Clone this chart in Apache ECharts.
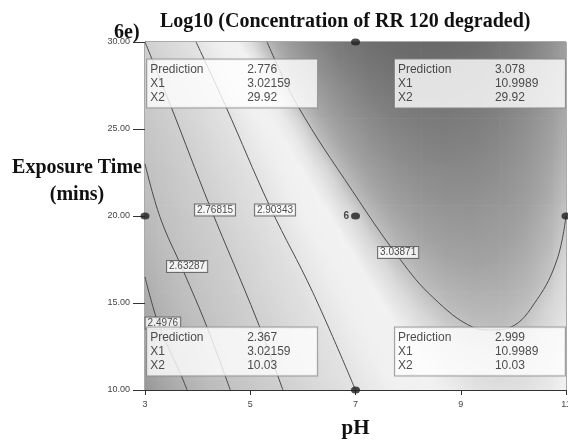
<!DOCTYPE html>
<html>
<head>
<meta charset="utf-8">
<script src="https://cdn.jsdelivr.net/npm/echarts@6/dist/echarts.min.js"></script>
<style>
  html, body { margin: 0; padding: 0; background: #fff; }
  #main { width: 568px; height: 441px; }
</style>
</head>
<body>
<div id="main"></div>
<script>
'use strict'

// surface grid (pH columns x exposure time rows)
const phSteps = [3, 3.5, 4, 4.5, 5, 5.5, 6, 6.5, 7, 7.5, 8, 8.5, 9, 9.5, 10, 10.5, 11];
const timeSteps = [10, 11.25, 12.5, 13.75, 15, 16.25, 17.5, 18.75, 20,
  21.25, 22.5, 23.75, 25, 26.25, 27.5, 28.75, 30];
// one row per pH step, time going up
const surface = [
  [2.367, 2.393, 2.419, 2.444, 2.470, 2.496, 2.521, 2.547, 2.572, 2.598, 2.623, 2.649, 2.674, 2.700, 2.725, 2.751, 2.776],
  [2.460, 2.484, 2.508, 2.533, 2.557, 2.581, 2.605, 2.630, 2.654, 2.678, 2.702, 2.727, 2.751, 2.775, 2.799, 2.824, 2.848],
  [2.545, 2.568, 2.591, 2.614, 2.637, 2.660, 2.683, 2.706, 2.729, 2.752, 2.775, 2.798, 2.821, 2.844, 2.867, 2.890, 2.913],
  [2.623, 2.645, 2.666, 2.688, 2.710, 2.732, 2.753, 2.775, 2.796, 2.818, 2.840, 2.862, 2.883, 2.905, 2.927, 2.949, 2.970],
  [2.694, 2.715, 2.735, 2.755, 2.775, 2.796, 2.816, 2.837, 2.857, 2.878, 2.898, 2.919, 2.939, 2.960, 2.980, 3.000, 3.020],
  [2.758, 2.777, 2.796, 2.815, 2.834, 2.854, 2.873, 2.892, 2.911, 2.930, 2.949, 2.968, 2.987, 3.007, 3.026, 3.045, 3.064],
  [2.815, 2.833, 2.851, 2.869, 2.886, 2.904, 2.922, 2.940, 2.958, 2.976, 2.993, 3.011, 3.029, 3.047, 3.065, 3.083, 3.100],
  [2.865, 2.882, 2.898, 2.915, 2.931, 2.948, 2.964, 2.981, 2.997, 3.014, 3.030, 3.047, 3.064, 3.081, 3.097, 3.114, 3.130],
  [2.908, 2.924, 2.939, 2.954, 2.969, 2.985, 3.000, 3.015, 3.030, 3.046, 3.061, 3.076, 3.091, 3.107, 3.122, 3.137, 3.152],
  [2.944, 2.958, 2.972, 2.986, 3.000, 3.014, 3.028, 3.042, 3.056, 3.070, 3.084, 3.098, 3.112, 3.126, 3.140, 3.154, 3.167],
  [2.973, 2.986, 2.998, 3.011, 3.024, 3.037, 3.049, 3.062, 3.074, 3.087, 3.100, 3.113, 3.125, 3.138, 3.151, 3.164, 3.176],
  [2.995, 3.007, 3.018, 3.030, 3.041, 3.052, 3.063, 3.075, 3.086, 3.098, 3.109, 3.121, 3.132, 3.143, 3.154, 3.166, 3.177],
  [3.010, 3.020, 3.030, 3.040, 3.050, 3.060, 3.070, 3.081, 3.091, 3.101, 3.111, 3.121, 3.131, 3.141, 3.151, 3.161, 3.171],
  [3.018, 3.027, 3.035, 3.044, 3.053, 3.062, 3.071, 3.080, 3.088, 3.097, 3.106, 3.115, 3.123, 3.132, 3.141, 3.150, 3.159],
  [3.019, 3.027, 3.034, 3.042, 3.049, 3.057, 3.064, 3.072, 3.079, 3.087, 3.094, 3.102, 3.109, 3.117, 3.124, 3.132, 3.139],
  [3.013, 3.019, 3.025, 3.031, 3.037, 3.044, 3.050, 3.056, 3.062, 3.069, 3.075, 3.081, 3.087, 3.094, 3.100, 3.106, 3.112],
  [2.999, 3.004, 3.009, 3.014, 3.019, 3.024, 3.029, 3.034, 3.039, 3.044, 3.049, 3.054, 3.059, 3.064, 3.069, 3.074, 3.078]
];

// contour lines [pH, time]
const contourLevels = ['2.4976', '2.63287', '2.76815', '2.90343', '3.03871'];
const contour1 = [[3.0, 16.5], [3.23, 14.0], [3.45, 12.4], [3.65, 11.1], [3.8, 10]];
const contour2 = [[3.0, 23.0], [3.29, 19.9], [3.72, 16.9], [4.18, 13.6], [4.62, 10]];
const contour3 = [[3.0, 30], [3.48, 26.4], [4.24, 20.5], [5.13, 14.0], [5.62, 10]];
const contour4 = [[3.97, 30], [4.52, 26.4], [5.38, 20.5], [6.19, 15.6], [7.0, 10]];
const contour5 = [[5.32, 30], [5.89, 26.4], [6.95, 21.4], [7.85, 17.5], [8.48, 15.3],
  [9.24, 13.6], [9.56, 13.45], [9.94, 13.6], [10.45, 15.2], [10.83, 17.5], [11, 20.0]];
const contourLabelPos = [[3.34, 13.85], [3.8, 17.1], [4.33, 20.35], [5.47, 20.35], [7.81, 17.9]];

// design points
const designPoints = [[3, 20], [7, 30], [7, 20], [11, 20], [7, 10]];

// flagged predictions at the four corners
const flagX1 = [3.02159, 10.9989, 3.02159, 10.9989];
const flagX2 = [29.92, 29.92, 10.03, 10.03];
const flagPrediction = ['2.776', '3.078', '2.367', '2.999'];
const flagX1Text = ['3.02159', '10.9989', '3.02159', '10.9989'];
const flagX2Text = ['29.92', '29.92', '10.03', '10.03'];

// grey scale used for the shading (value -> grey level)
const shadeStops = [[2.36, 150], [2.50, 176], [2.60, 190], [2.77, 207], [2.90, 225], [2.96, 240],
  [3.00, 242], [3.03, 214], [3.045, 188], [3.07, 163], [3.10, 144], [3.13, 126], [3.16, 112], [3.18, 104]];

function grey(v) {
  let g = shadeStops[0][1];
  for (let i = 1; i < shadeStops.length; i++) {
    const a = shadeStops[i - 1], b = shadeStops[i];
    if (v <= b[0]) {
      const t = Math.max(0, (v - a[0]) / (b[0] - a[0]));
      g = a[1] + (b[1] - a[1]) * t;
      break;
    }
    g = b[1];
  }
  g = Math.round(g);
  return 'rgb(' + g + ',' + g + ',' + g + ')';
}

const cells = [];
for (let i = 0; i < phSteps.length; i++) {
  for (let j = 0; j < timeSteps.length; j++) {
    cells.push([phSteps[i], timeSteps[j], surface[i][j], i, j]);
  }
}

const sans = '"Liberation Sans", Arial, sans-serif';
const serif = '"Liberation Serif", "Times New Roman", serif';

var myChart = echarts.init(document.getElementById('main'));

var series = [];

// shaded surface: each cell is shaded along the local slope taken from its neighbours
series.push({
  type: 'custom',
  data: cells,
  encode: { x: 0, y: 1 },
  z: 1,
  silent: true,
  renderItem: function (params, api) {
    const p = api.coord([api.value(0), api.value(1)]);
    const size = api.size([0.5, 1.25]);
    const rect = echarts.graphic.clipRectByRect({
      x: p[0] - size[0] / 2,
      y: p[1] - size[1] / 2,
      width: size[0] + 0.6,
      height: size[1] + 0.6
    }, params.coordSys);
    if (!rect) return;
    const i = api.value(3), j = api.value(4);
    const v = surface[i][j];
    const iL = Math.max(i - 1, 0), iR = Math.min(i + 1, phSteps.length - 1);
    const jD = Math.max(j - 1, 0), jU = Math.min(j + 1, timeSteps.length - 1);
    const dx = (surface[iR][j] - surface[iL][j]) / (iR - iL);
    const dy = (surface[i][jU] - surface[i][jD]) / (jU - jD);
    const gx = dx / size[0], gy = -dy / size[1];
    const g = Math.sqrt(gx * gx + gy * gy);
    let fill = grey(v);
    if (g > 1e-9) {
      const ux = gx / g, uy = gy / g;
      const L = (size[0] + size[1]) / 2;
      const stops = [];
      for (let k = 0; k <= 4; k++) {
        const s = (k / 2 - 1) * L;
        stops.push({ offset: k / 4, color: grey(v + s * g) });
      }
      fill = new echarts.graphic.LinearGradient(
        p[0] - ux * L, p[1] - uy * L, p[0] + ux * L, p[1] + uy * L, stops, true);
    }
    return { type: 'rect', shape: rect, style: { fill: fill } };
  }
});

// contour lines
[contour1, contour2, contour3, contour4, contour5].forEach(function (line) {
  series.push({
    type: 'line',
    data: line,
    smooth: 0.4,
    symbol: 'none',
    z: 3,
    silent: true,
    lineStyle: { color: '#4a4a4a', width: 1 }
  });
});

// contour labels
series.push({
  type: 'scatter',
  z: 5,
  symbolSize: 0,
  silent: true,
  data: contourLabelPos.map(function (p, i) { return { name: contourLevels[i], value: p }; }),
  label: {
    show: true,
    position: 'inside',
    formatter: '{b}',
    fontFamily: sans,
    fontSize: 10,
    color: '#222',
    backgroundColor: '#fff',
    borderColor: '#555',
    borderWidth: 1,
    padding: [1, 2, 0, 2]
  }
});

// design points
series.push({
  type: 'scatter',
  z: 6,
  clip: false,
  symbolSize: [9, 7],
  itemStyle: { color: '#1e1e1e' },
  data: designPoints.map(function (p, i) {
    return {
      value: p,
      label: i === 2 ? { show: true, formatter: '6', position: 'left', distance: 2,
        fontSize: 10, fontWeight: 'bold', color: '#222', fontFamily: sans } : { show: false }
    };
  })
});

// prediction flags
const flagOffsets = [[1, 16], [-171, 16], [1, -62], [-171, -62]];
series.push({
  type: 'scatter',
  z: 7,
  clip: false,
  symbolSize: 0,
  silent: true,
  data: flagX1.map(function (x, i) {
    return {
      value: [x, flagX2[i]],
      label: {
        show: true,
        position: flagOffsets[i],
        formatter: '{a|Prediction}{b|' + flagPrediction[i] + '}\n{a|X1}{b|' + flagX1Text[i] +
          '}\n{a|X2}{b|' + flagX2Text[i] + '}',
        backgroundColor: '#fff',
        borderColor: '#8a8a8a',
        borderWidth: 1,
        padding: [3, 4, 3, 3],
        width: 163,
        rich: {
          a: { width: 97, fontFamily: sans, fontSize: 12, lineHeight: 14, color: '#222' },
          b: { fontFamily: sans, fontSize: 12, lineHeight: 14, color: '#222' }
        }
      }
    };
  })
});

var option = {
  animation: false,
  backgroundColor: '#fff',
  title: [
    {
      text: 'Log10 (Concentration of RR 120 degraded)',
      left: 160,
      top: 12,
      padding: 0,
      textStyle: { fontFamily: serif, fontWeight: 'bold', fontSize: 20, color: '#111' }
    },
    {
      text: '6e)',
      left: 114,
      top: 23,
      padding: 0,
      textStyle: { fontFamily: serif, fontWeight: 'bold', fontSize: 20, color: '#111' }
    }
  ],
  graphic: [
    {
      type: 'text',
      x: 77,
      y: 154,
      silent: true,
      style: {
        text: 'Exposure Time\n(mins)',
        align: 'center',
        verticalAlign: 'top',
        lineHeight: 27,
        font: 'bold 20px ' + serif,
        fill: '#111'
      }
    }
  ],
  grid: {
    left: 145,
    right: 2,
    top: 42,
    bottom: 51,
    outerBoundsMode: 'none',
    show: true,
    borderColor: '#555',
    borderWidth: 1
  },
  xAxis: {
    type: 'value',
    min: 3,
    max: 11,
    interval: 2,
    name: 'pH',
    nameLocation: 'middle',
    nameGap: 28,
    nameTextStyle: { fontFamily: serif, fontWeight: 'bold', fontSize: 21, color: '#111' },
    axisLine: { show: true, lineStyle: { color: '#333', width: 1 } },
    axisTick: { show: true, length: 5, lineStyle: { color: '#333' } },
    axisLabel: { fontFamily: sans, fontSize: 9, color: '#444', margin: 10 },
    splitLine: { show: false }
  },
  yAxis: {
    type: 'value',
    min: 10,
    max: 30,
    interval: 5,
    axisLine: { show: true, lineStyle: { color: '#333', width: 1 } },
    axisTick: { show: true, length: 12, lineStyle: { color: '#333' } },
    axisLabel: {
      fontFamily: sans, fontSize: 9, color: '#444', margin: 15,
      formatter: function (v) { return v.toFixed(2); }
    },
    splitLine: { show: false }
  },
  series: series
};

myChart.setOption(option);
</script>
</body>
</html>
